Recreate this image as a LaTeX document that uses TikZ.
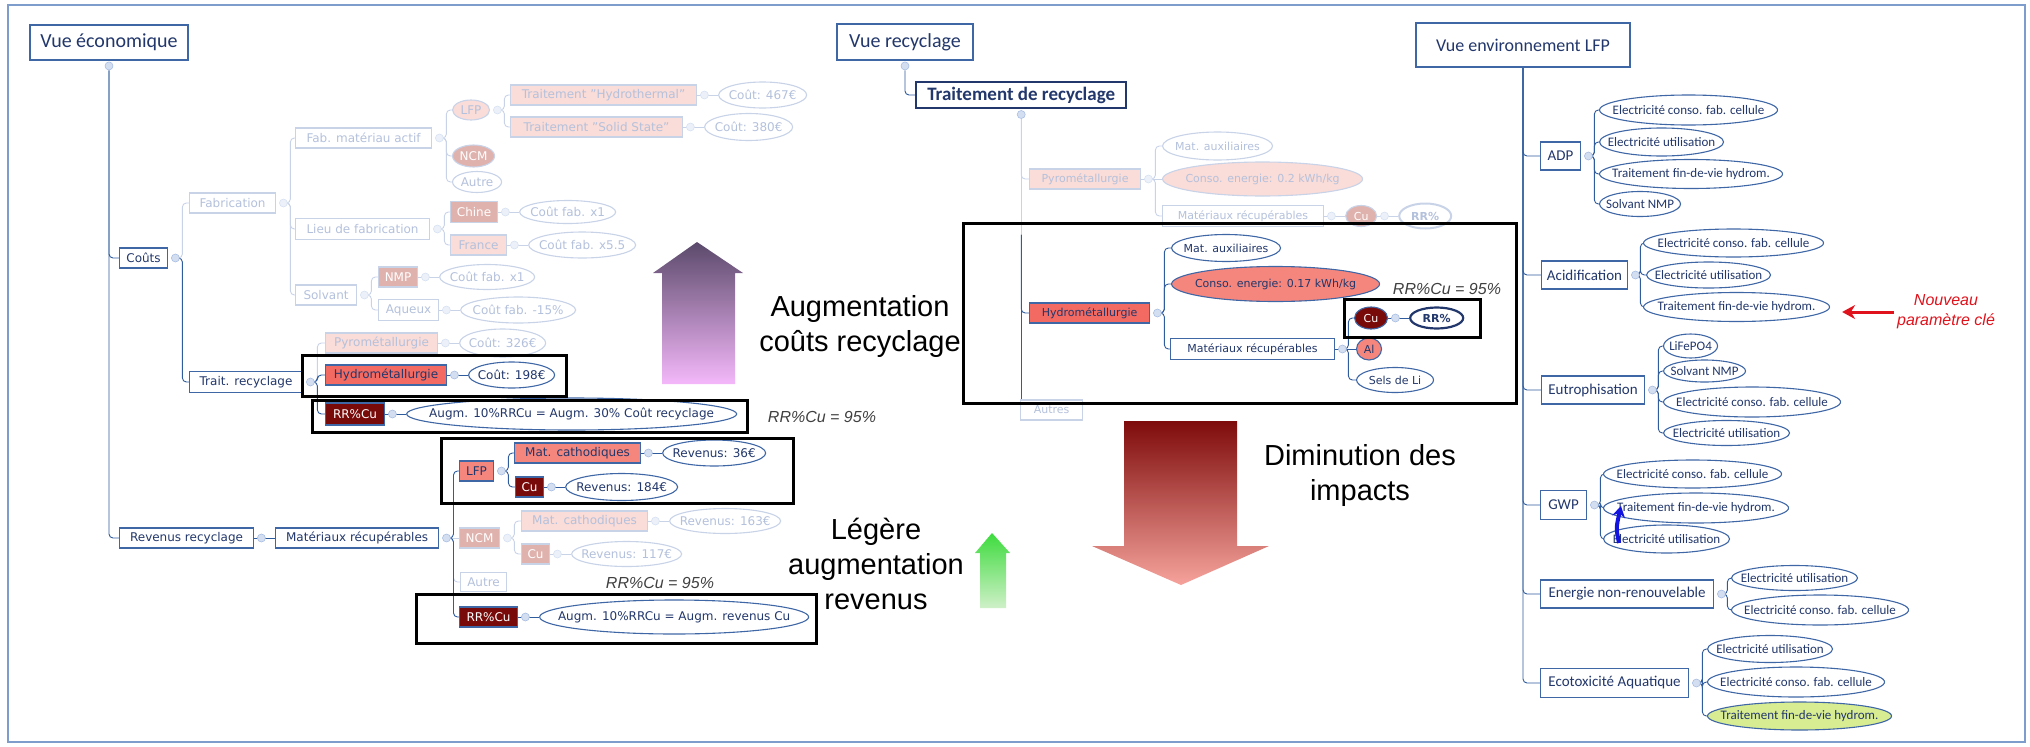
\documentclass[tikz,border=0pt]{standalone}
\usepackage{fontspec}
\setmainfont{DejaVu Sans}
\newfontfamily\headfont{Carlito}
\newfontfamily\labelfont{Liberation Sans}
\usetikzlibrary{shapes.geometric, arrows.meta, positioning, backgrounds}

\definecolor{navytext}{HTML}{22376B}
\definecolor{nodeblue}{HTML}{3F67A6}
\definecolor{lineblue}{HTML}{2F5C9C}
\definecolor{paleline}{HTML}{C8D3E8}
\definecolor{paletext}{HTML}{B4C1DC}
\definecolor{palepink}{HTML}{FADCD8}
\definecolor{paledark}{HTML}{DFB2AD}
\definecolor{salmon}{HTML}{F5867E}
\definecolor{hydrored}{HTML}{F26A62}
\definecolor{darkred}{HTML}{780A0A}
\definecolor{knobfill}{HTML}{D3DEF1}
\definecolor{knobline}{HTML}{A9BEE2}
\definecolor{framecol}{HTML}{7E9DCC}
\definecolor{limefill}{HTML}{D8EC92}
\definecolor{notegray}{HTML}{404040}
\definecolor{alertred}{HTML}{E0121B}
\definecolor{markblue}{HTML}{1414E0}
\definecolor{upviolet}{HTML}{5B4A6B}
\definecolor{uppink}{HTML}{F4B8FA}
\definecolor{upgreen}{HTML}{3EDB3E}
\definecolor{palegreen}{HTML}{CFF0C8}
\definecolor{downred}{HTML}{7E0B0B}
\definecolor{downpink}{HTML}{F6A39C}

\begin{document}
\begin{tikzpicture}[x=1pt, y=-1pt,
    node distance=21pt,
    head/.style={rectangle, draw=nodeblue, line width=1.3pt, fill=white, text=navytext,
                 font=\headfont\fontsize{20}{24}\selectfont, inner sep=0pt},
    box/.style={rectangle, draw=nodeblue, line width=1.1pt, fill=white, text=navytext,
                font=\fontsize{12}{14}\selectfont, inner xsep=2pt, inner ysep=0pt,
                minimum height=20, anchor=west},
    oval/.style={ellipse, draw=nodeblue, line width=1.1pt, fill=white, text=navytext,
                 font=\fontsize{12}{14}\selectfont, inner sep=-40pt, minimum height=26, anchor=west},
    faded/.style={draw=paleline, text=paletext},
    mid/.style={font=\fontsize{11}{13}\selectfont},
    cat/.style={box, font=\headfont\fontsize{15}{18}\selectfont, minimum height=28},
    impact/.style={oval, font=\headfont\fontsize{13}{16}\selectfont},
    knob/.style={circle, draw=knobline, fill=knobfill, line width=0.6pt, inner sep=0pt, minimum size=8},
    paleknob/.style={knob, draw=knobline!45, fill=knobfill!45},
    link/.style={draw=lineblue, line width=0.9pt, rounded corners=4pt},
    palelink/.style={link, draw=paleline},
    hl/.style={draw=black, line width=3pt},
    biglabel/.style={font=\labelfont\fontsize{29}{35}\selectfont, align=center, inner sep=0pt},
    rrnote/.style={font=\labelfont\itshape\fontsize{16}{19}\selectfont, text=notegray, inner sep=0pt},
    newnote/.style={font=\labelfont\itshape\fontsize{16}{20}\selectfont, text=alertred, align=center, inner sep=0pt},
    newarrow/.style={draw=alertred, line width=3pt, -{Stealth[length=13pt, width=14pt]}},
    bluearrow/.style={draw=markblue, line width=4pt, -{Stealth[length=11pt, width=13pt]}}
  ]
    \useasboundingbox (0,0) rectangle (2030,747);

    % vue economique
    \node[head, minimum width=158, minimum height=35] (vecon) at (109,42.5) {Vue économique};
    \node[knob, below=1pt of vecon] (vecon-k) {};
    \node[box, minimum width=48] (couts) at (119,258) {Coûts};
    \node[box, faded, minimum width=86] (fab) at (189,203) {Fabrication};
    \node[box, minimum width=113, minimum height=21] (trait) at (189,382) {Trait. recyclage};
    \node[box, faded, minimum width=136] (fma) at (295,138) {Fab. matériau actif};
    \node[box, faded, minimum width=134, minimum height=21] (lieu) at (295,229) {Lieu de fabrication};
    \node[box, faded, minimum width=61] (solv) at (295,295) {Solvant};
    \node[oval, faded, fill=palepink, minimum width=37, minimum height=20] (lfpa) at (452,110) {LFP};
    \node[oval, faded, fill=paledark, text=white, minimum width=42, minimum height=22] (ncma) at (452,156) {NCM};
    \node[oval, faded, minimum width=49, minimum height=21] (autrea) at (452,182) {Autre};
    \node[box, faded, fill=palepink, minimum width=186] (thyd) at (510,95) {Traitement "Hydrothermal"};
    \node[oval, faded, minimum width=88, right=of thyd] (c467) {Coût: 467€};
    \node[box, faded, fill=palepink, minimum width=172] (tsol) at (510,127) {Traitement "Solid State"};
    \node[oval, faded, minimum width=88, minimum height=27, right=of tsol] (c380) {Coût: 380€};
    \node[box, faded, fill=paledark, text=white, minimum width=47, minimum height=21] (chine) at (450,212) {Chine};
    \node[oval, faded, minimum width=96, minimum height=23, right=of chine] (cfx1) {Coût fab. x1};
    \node[box, faded, fill=palepink, minimum width=56] (france) at (450,245) {France};
    \node[oval, faded, minimum width=107, right=of france] (cfx55) {Coût fab. x5.5};
    \node[box, faded, fill=paledark, text=white, minimum width=39] (nmp) at (378,277) {NMP};
    \node[oval, faded, minimum width=95, minimum height=25, right=of nmp] (cfx1b) {Coût fab. x1};
    \node[box, faded, minimum width=60, minimum height=21] (aqueux) at (378,310) {Aqueux};
    \node[oval, faded, minimum width=115, right=of aqueux] (cf15) {Coût fab. -15\%};
    \node[box, faded, fill=palepink, minimum width=112] (pyroa) at (325,343) {Pyrométallurgie};
    \node[oval, faded, minimum width=86, minimum height=28, right=of pyroa] (c326) {Coût: 326€};
    \node[box, fill=hydrored, minimum width=121] (hydroa) at (325,375) {Hydrométallurgie};
    \node[oval, minimum width=86, right=of hydroa] (c198) {Coût: 198€};
    \node[box, fill=darkred, text=white, minimum width=59, minimum height=22] (rrcua) at (325,414) {RR\%Cu};
    \node[oval, minimum width=330, minimum height=32, right=of rrcua] (augcout) {Augm. 10\%RRCu = Augm. 30\% Coût recyclage};
    \node[box, minimum width=134] (rev) at (119,538) {Revenus recyclage};
    \node[box, minimum width=163, right=of rev] (mata) {Matériaux récupérables};
    \node[box, fill=salmon, minimum width=34] (lfpb) at (459,471) {LFP};
    \node[box, fill=salmon, minimum width=126] (matcat) at (514,453) {Mat. cathodiques};
    \node[oval, minimum width=103, right=of matcat] (r36) {Revenus: 36€};
    \node[box, fill=darkred, text=white, minimum width=28] (cub) at (515,487) {Cu};
    \node[oval, minimum width=112, minimum height=27, right=of cub] (r184) {Revenus: 184€};
    \node[box, faded, fill=paledark, text=white, minimum width=40] (ncmb) at (459,538) {NCM};
    \node[box, faded, fill=palepink, minimum width=126] (matcatb) at (521,521) {Mat. cathodiques};
    \node[oval, faded, minimum width=111, minimum height=25, right=of matcatb] (r163) {Revenus: 163€};
    \node[box, faded, fill=paledark, text=white, minimum width=28] (cuc) at (521,554) {Cu};
    \node[oval, faded, minimum width=110, minimum height=25, right=of cuc] (r117) {Revenus: 117€};
    \node[box, faded, minimum width=46, minimum height=19] (autreb) at (460,582) {Autre};
    \node[box, fill=darkred, text=white, minimum width=58] (rrcub) at (459,617) {RR\%Cu};
    \node[oval, minimum width=269, minimum height=34, right=of rrcub] (augrev) {Augm. 10\%RRCu = Augm. revenus Cu};

    % vue recyclage
    \node[head, minimum width=136, minimum height=36] (vrecy) at (905,42) {Vue recyclage};
    \node[knob, below=1pt of vrecy] (vrecy-k) {};
    \node[head, draw=navytext, line width=2.4pt, font=\headfont\bfseries\fontsize{19}{22}\selectfont,
          minimum width=210, minimum height=26, anchor=west] (trt) at (915,95) {Traitement de recyclage};
    \node[knob, below=1pt of trt] (trt-k) {};
    \node[box, mid, faded, fill=palepink, minimum width=111] (pyrom) at (1029,179) {Pyrométallurgie};
    \node[oval, mid, faded, minimum width=110, minimum height=28] (auxa) at (1162,146) {Mat. auxiliaires};
    \node[oval, mid, faded, fill=palepink, minimum width=200, minimum height=34] (enera) at (1162,179) {Conso. energie: 0.2 kWh/kg};
    \node[box, mid, faded, minimum width=161, minimum height=21] (recupa) at (1162,216) {Matériaux récupérables};
    \node[oval, mid, faded, fill=paledark, text=white, minimum width=31, minimum height=21, right=of recupa] (cua) {Cu};
    \node[oval, faded, line width=2pt, font=\bfseries\fontsize{11}{13}\selectfont,
          minimum width=52, minimum height=25, right=of cua] (rra) {RR\%};
    \node[box, mid, fill=hydrored, minimum width=120] (hydrom) at (1029,313) {Hydrométallurgie};
    \node[oval, mid, minimum width=109, minimum height=27] (auxb) at (1171,248) {Mat. auxiliaires};
    \node[oval, mid, fill=salmon, minimum width=208, minimum height=35] (enerb) at (1171,284) {Conso. energie: 0.17 kWh/kg};
    \node[box, mid, minimum width=164, minimum height=21] (recupb) at (1170,349) {Matériaux récupérables};
    \node[oval, mid, fill=darkred, text=white, minimum width=33, minimum height=22] (cun) at (1354,318) {Cu};
    \node[oval, draw=navytext, line width=2.2pt, font=\bfseries\fontsize{11}{13}\selectfont,
          minimum width=53, minimum height=21, right=of cun] (rrn) {RR\%};
    \node[oval, mid, fill=salmon, minimum width=25, minimum height=22] (aln) at (1356,349) {Al};
    \node[oval, mid, minimum width=77, minimum height=25] (sels) at (1356,380) {Sels de Li};
    \node[box, mid, faded, minimum width=62] (autm) at (1020,410) {Autres};

    % vue environnement
    \node[head, font=\headfont\fontsize{18}{22}\selectfont, minimum width=214, minimum height=44] (venv) at (1523,45) {Vue environnement LFP};
    \node[cat, minimum width=40] (adp) at (1540,156) {ADP};
    \node[cat, minimum width=86] (acid) at (1541,275) {Acidification};
    \node[cat, minimum width=103] (eut) at (1541,390) {Eutrophisation};
    \node[cat, minimum width=46, minimum height=29] (gwp) at (1540,505) {GWP};
    \node[cat, minimum width=173] (enr) at (1540,594) {Energie non-renouvelable};
    \node[cat, minimum width=148, minimum height=29] (ecot) at (1540,683) {Ecotoxicité Aquatique};

    \node[impact, minimum width=178, minimum height=30] (adp1) at (1599,110) {Electricité conso. fab. cellule};
    \node[impact, minimum width=124, minimum height=28] (adp2) at (1599,142) {Electricité utilisation};
    \node[impact, minimum width=183, minimum height=29] (adp3) at (1599,174) {Traitement fin-de-vie hydrom.};
    \node[impact, minimum width=81, minimum height=25] (adp4) at (1599,204) {Solvant NMP};
    \node[impact, minimum width=180, minimum height=28] (acid1) at (1643,243) {Electricité conso. fab. cellule};
    \node[impact, minimum width=124, minimum height=26] (acid2) at (1646,275) {Electricité utilisation};
    \node[impact, minimum width=186, minimum height=29] (acid3) at (1643,307) {Traitement fin-de-vie hydrom.};
    \node[impact, minimum width=54, minimum height=24] (eut1) at (1663,346) {LiFePO4};
    \node[impact, minimum width=82, minimum height=22] (eut2) at (1663,371) {Solvant NMP};
    \node[impact, minimum width=177, minimum height=30] (eut3) at (1663,402) {Electricité conso. fab. cellule};
    \node[impact, minimum width=126, minimum height=25] (eut4) at (1663,433) {Electricité utilisation};
    \node[impact, minimum width=178, minimum height=28] (gwp1) at (1603,474) {Electricité conso. fab. cellule};
    \node[impact, minimum width=185, minimum height=30] (gwp2) at (1603,508) {Traitement fin-de-vie hydrom.};
    \node[impact, minimum width=126, minimum height=28] (gwp3) at (1603,539) {Electricité utilisation};
    \node[impact, minimum width=126, minimum height=25] (enr1) at (1731,578) {Electricité utilisation};
    \node[impact, minimum width=177, minimum height=30] (enr2) at (1731,610) {Electricité conso. fab. cellule};
    \node[impact, minimum width=125, minimum height=27] (ecot1) at (1707,649) {Electricité utilisation};
    \node[impact, minimum width=177, minimum height=30] (ecot2) at (1707,682) {Electricité conso. fab. cellule};
    \node[impact, fill=limefill, minimum width=184, minimum height=28] (ecot3) at (1707,716) {Traitement fin-de-vie hydrom.};

    \foreach \n in {couts,trait,hydroa,rrcua,rev,mata,lfpb,matcat,cub,rrcub,hydrom,recupb,cun,adp,acid,eut,gwp,enr,ecot}
      \node[knob, right=3pt of \n] (\n-k) {};
    \foreach \n in {fab,fma,lieu,solv,lfpa,thyd,tsol,chine,france,nmp,aqueux,pyroa,ncmb,matcatb,cuc,pyrom,recupa,cua}
      \node[paleknob, right=3pt of \n] (\n-k) {};

    \begin{scope}[on background layer]
      \draw[framecol, line width=1.5pt] (8,5) rectangle (2025,742);
      \draw[link] (vecon-k) |- (couts.west);
      \draw[link] (vecon-k) |- (rev.west);
      \draw[palelink] (couts-k) -- ++(7,0) |- (fab.west);
      \draw[link] (couts-k) -- ++(7,0) |- (trait.west);
      \foreach \c in {fma,lieu,solv} \draw[palelink] (fab-k) -- ++(7,0) |- (\c.west);
      \foreach \c in {lfpa,ncma,autrea} \draw[palelink] (fma-k) -- ++(7,0) |- (\c.west);
      \foreach \c in {thyd,tsol} \draw[palelink] (lfpa-k) -- ++(7,0) |- (\c.west);
      \foreach \c in {chine,france} \draw[palelink] (lieu-k) -- ++(7,0) |- (\c.west);
      \foreach \c in {nmp,aqueux} \draw[palelink] (solv-k) -- ++(7,0) |- (\c.west);
      \draw[palelink] (trait-k) -- ++(7,0) |- (pyroa.west);
      \draw[link] (trait-k) -- ++(7,0) |- (hydroa.west);
      \draw[link] (trait-k) -- ++(7,0) |- (rrcua.west);
      \foreach \a/\b in {thyd/c467,tsol/c380,chine/cfx1,france/cfx55,nmp/cfx1b,aqueux/cf15,pyroa/c326,matcatb/r163,cuc/r117}
        \draw[palelink] (\a) -- (\b);
      \foreach \a/\b in {hydroa/c198,rrcua/augcout,rev/mata,matcat/r36,cub/r184,rrcub/augrev}
        \draw[link] (\a) -- (\b);
      \draw[link] (mata-k) -- ++(7,0) |- (lfpb.west);
      \draw[palelink] (mata-k) -- (ncmb);
      \draw[palelink] (mata-k) -- ++(7,0) |- (autreb.west);
      \draw[link] (mata-k) -- ++(7,0) |- (rrcub.west);
      \draw[link] (lfpb-k) -- ++(7,0) |- (matcat.west);
      \draw[link] (lfpb-k) -- ++(7,0) |- (cub.west);
      \foreach \c in {matcatb,cuc} \draw[palelink] (ncmb-k) -- ++(7,0) |- (\c.west);

      \draw[link] (vrecy-k) |- (trt.west);
      \draw[palelink] (trt-k) -- (trt-k |- autm.north);
      \draw[palelink] (trt-k) |- (pyrom.west);
      \draw[link] (trt-k) ++(0,120) -- ++(0,167);
      \draw[link] (trt-k) ++(0,120) |- (hydrom.west);
      \foreach \c in {auxa,recupa} \draw[palelink] (pyrom-k) -- ++(7,0) |- (\c.west);
      \draw[palelink] (pyrom) -- (enera);
      \draw[palelink] (recupa) -- (cua);
      \draw[palelink] (cua) -- (rra);
      \foreach \c in {auxb,enerb,recupb} \draw[link] (hydrom-k) -- ++(7,0) |- (\c.west);
      \foreach \c in {cun,sels} \draw[link] (recupb-k) -- ++(6,0) |- (\c.west);
      \draw[link] (recupb) -- (aln);
      \draw[link] (cun) -- (rrn);

      \foreach \c in {adp,acid,eut,gwp,enr,ecot} \draw[link] (venv.south) |- (\c.west);
      \foreach \i in {1,...,4} \draw[link] (adp-k) -- ++(6,0) |- (adp\i.west);
      \foreach \i in {1,2,3} \draw[link] (acid-k) -- ++(5,0) |- (acid\i.west);
      \foreach \i in {1,...,4} \draw[link] (eut-k) -- ++(6,0) |- (eut\i.west);
      \foreach \i in {1,2,3} \draw[link] (gwp-k) -- ++(6,0) |- (gwp\i.west);
      \foreach \i in {1,2} \draw[link] (enr-k) -- ++(6,0) |- (enr\i.west);
      \foreach \i in {1,2,3} \draw[link] (ecot-k) -- ++(6,0) |- (ecot\i.west);
    \end{scope}

    \draw[hl] (302,355) rectangle (566,396);
    \draw[hl] (312,400) rectangle (747,432);
    \draw[hl] (441,438) rectangle (793,503);
    \draw[hl] (416,594) rectangle (816,643);
    \draw[hl] (963,223) rectangle (1516,403);
    \draw[hl] (1344,299) rectangle (1480,337);

    \shade[top color=upviolet, bottom color=uppink]
      (662,384) -- (662,273) -- (653,273) -- (697,242) -- (743,273) -- (735,273) -- (735,384) -- cycle;
    \shade[top color=upgreen, bottom color=palegreen]
      (980,608) -- (980,553) -- (975,553) -- (992,533) -- (1010,553) -- (1006,553) -- (1006,608) -- cycle;
    \shade[top color=downred, bottom color=downpink]
      (1124,421) -- (1237,421) -- (1237,546) -- (1269,546) -- (1181,585) -- (1092,546) -- (1124,546) -- cycle;

    \node[biglabel] (augcost) at (860,326) {Augmentation\\coûts recyclage};
    \node[biglabel] (legrev) at (876,564) {Légère\\augmentation\\revenus};
    \node[biglabel] (dimimp) at (1360,475) {Diminution des\\impacts};
    \node[rrnote] (rrnote1) at (822,417) {RR\%Cu = 95\%};
    \node[rrnote] (rrnote2) at (660,583) {RR\%Cu = 95\%};
    \node[rrnote] (rrnote3) at (1447,289) {RR\%Cu = 95\%};
    \node[newnote] (nouveau) at (1946,312) {Nouveau\\paramètre clé};

    \draw[newarrow, shorten <=3pt, shorten >=12pt] (nouveau.west) -- (nouveau.west -| acid3.east);
    \coordinate (gwptail) at (1619,543);
    \coordinate (gwphead) at (1621,506);
    \draw[bluearrow] (gwptail) .. controls (1616,528) .. (gwphead);
  \end{tikzpicture}
\end{document}
